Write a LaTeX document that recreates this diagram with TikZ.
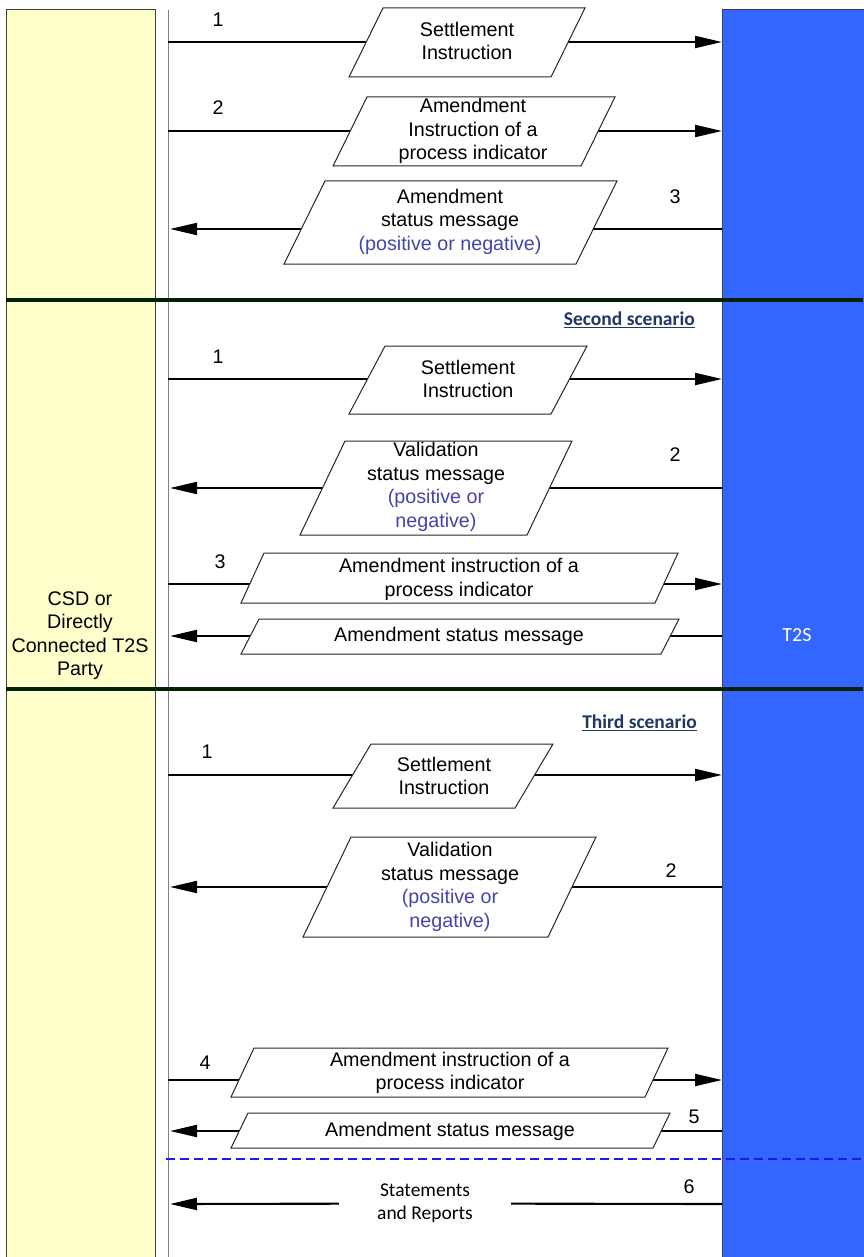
\documentclass[tikz,border=0pt]{standalone}
\usepackage{fontspec}
\setmainfont{Liberation Sans}
\newfontfamily\calfont{Carlito}
\usetikzlibrary{arrows.meta}
\definecolor{csdyellow}{HTML}{FFFFCC}
\definecolor{t2sblue}{HTML}{3366FF}
\definecolor{sepgreen}{HTML}{002200}
\definecolor{scen}{HTML}{1F3864}
\definecolor{posneg}{HTML}{4444AA}
\definecolor{dashblue}{HTML}{1A1AE6}
\newcommand\pgm[5]{\draw[pbox] (#1,#4) -- (#2,#4) -- ({#2-#1+#3},#5) -- (#3,#5) -- cycle;}
\begin{document}
\begin{tikzpicture}[x=1pt,y=-1pt,
  txt/.style={font=\fontsize{19.7}{23.5}\selectfont, align=center, inner sep=0pt},
  num/.style={font=\fontsize{19.7}{23.5}\selectfont, inner sep=0pt},
  scenlabel/.style={font=\calfont\bfseries\fontsize{19.5}{23}\selectfont, text=scen, inner sep=0pt, anchor=east},
  pbox/.style={draw=black!85, fill=white, line width=1pt},
  msg/.style={line width=2.1pt, -{Triangle[length=27pt,width=12pt]}},
  sep/.style={draw=sepgreen, line width=3.2pt},
  col/.style={minimum width=#1, minimum height=1260, anchor=north west, inner sep=0pt, line width=0.9pt}]
\useasboundingbox (0,0) rectangle (863,1257);
\fill[white] (0,0) rectangle (863,1257);
% columns
\node[col=149, draw=black!75, fill=csdyellow] (csd) at (6,9) {};
\node[col=150, draw=black!75, fill=t2sblue] (t2s) at (722,9) {};
\draw[black!50, line width=1pt] (168,10) -- (168,1257);
% separators
\draw[sep] (6,300) -- (863,300);
\draw[sep] (6,689) -- (863,689);
\draw[dashblue, line width=2.4pt, dash pattern=on 9pt off 5pt] (166,1159) -- (863,1159);
% lifeline coordinates
\coordinate (l1) at (168,42);
\coordinate (l2) at (168,131);
\coordinate (l3) at (170,229);
\coordinate (m1) at (168,379);
\coordinate (m2) at (170,488);
\coordinate (m3) at (168,584);
\coordinate (m4) at (170,636);
\coordinate (n1) at (168,775);
\coordinate (n2) at (170,887);
\coordinate (n4) at (168,1080);
\coordinate (n5) at (170,1131);
\coordinate (n6) at (170,1204);
% first scenario
\draw[msg] (l1) -- (t2s.west |- l1);
\draw[msg] (l2) -- (t2s.west |- l2);
\draw[msg] (t2s.west |- l3) -- (l3);
\pgm{383}{585}{349}{8}{77}
\pgm{367}{615}{333}{97}{166}
\pgm{325}{617}{284}{181}{264}
\node[num] (f1) at (218,20) {1};
\node[num] (f2) at (218,108) {2};
\node[num] (f3) at (675,197) {3};
\node[txt] (fa) at (467,41) {Settlement\\Instruction};
\node[txt] (fb) at (473,131) {Amendment\\Instruction of a\\process indicator};
\node[txt] (fc) at (450,221.5) {Amendment\\status message\\\textcolor{posneg}{(positive or negative)}};
% second scenario
\node[scenlabel] (s2) at (695,320) {\underline{Second scenario}};
\draw[msg] (m1) -- (t2s.west |- m1);
\draw[msg] (t2s.west |- m2) -- (m2);
\draw[msg] (m3) -- (t2s.west |- m3);
\draw[msg] (t2s.west |- m4) -- (m4);
\pgm{385}{587}{349}{346}{414}
\pgm{345}{572}{300}{441}{535}
\pgm{264}{678}{241}{553}{603}
\pgm{259}{679}{241}{619}{654}
\node[num] (g1) at (218,357) {1};
\node[num] (g2) at (675,455) {2};
\node[num] (g3) at (220,562) {3};
\node[txt] (ga) at (468,379) {Settlement\\Instruction};
\node[txt] (gb) at (436,487) {Validation\\status message\\\textcolor{posneg}{(positive or}\\\textcolor{posneg}{negative)}};
\node[txt] (gc) at (459,579.5) {Amendment instruction of a\\process indicator};
\node[txt] (gd) at (459,636) {Amendment status message};
% third scenario
\node[scenlabel] (s3) at (697,723) {\underline{Third scenario}};
\draw[msg] (n1) -- (t2s.west |- n1);
\draw[msg] (t2s.west |- n2) -- (n2);
\draw[msg] (n4) -- (t2s.west |- n4);
\draw[msg] (t2s.west |- n5) -- (n5);
\pgm{371}{553}{333}{744}{808}
\pgm{351}{596}{303}{837}{937}
\pgm{254}{668}{231}{1048}{1097}
\pgm{248}{670}{231}{1113}{1148}
\node[num] (h1) at (207,752) {1};
\node[num] (h2) at (671,871) {2};
\node[num] (h4) at (205,1063) {4};
\node[num] (h5) at (694,1117) {5};
\node[num] (h6) at (689,1187) {6};
\node[txt] (ha) at (444,776) {Settlement\\Instruction};
\node[txt] (hb) at (450,887) {Validation\\status message\\\textcolor{posneg}{(positive or}\\\textcolor{posneg}{negative)}};
\node[txt] (hc) at (450,1073) {Amendment instruction of a\\process indicator};
\node[txt] (hd) at (450,1131) {Amendment status message};
\node[font=\calfont\fontsize{19.5}{23}\selectfont, align=center, inner sep=0pt, minimum width=172] (stmt) at (425,1203.5) {Statements\\and Reports};
\draw[line width=2.1pt] (t2s.west |- n6) -- (stmt);
\draw[msg] (stmt) -- (n6);
% column labels
\node[txt] (csdlabel) at (80,635.5) {CSD or\\Directly\\Connected T2S\\Party};
\node[font=\calfont\fontsize{20}{23}\selectfont, text=white, inner sep=0pt] (t2slabel) at (797,635) {T2S};
\end{tikzpicture}
\end{document}
